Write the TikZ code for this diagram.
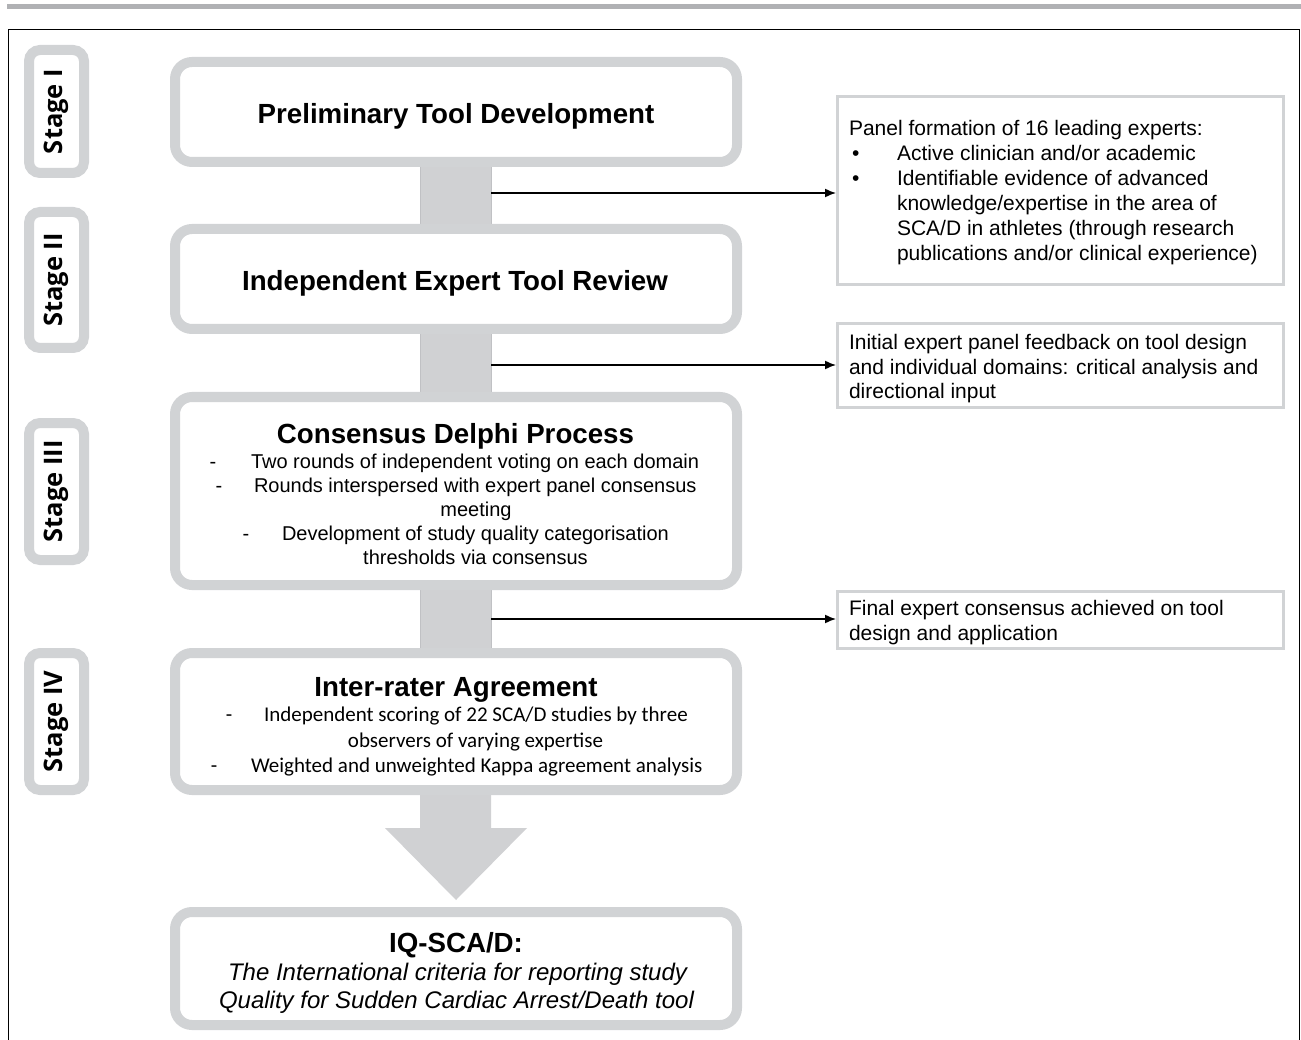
\documentclass[tikz,border=0pt]{standalone}
\usepackage{fontspec}
\setmainfont{Liberation Sans}
\newfontfamily\stagefont{Open Sans}
\newfontfamily\calfont{Carlito}
\usetikzlibrary{arrows.meta}
\definecolor{boxgray}{RGB}{209,211,213}
\definecolor{bargray}{RGB}{208,209,211}
\definecolor{topgray}{RGB}{176,177,180}
\definecolor{edgegray}{RGB}{192,193,196}
\begin{document}
\begin{tikzpicture}[x=1pt,y=-1pt,
  mainbox/.style={draw=boxgray, line width=10pt, rounded corners=17pt, fill=white, inner sep=0pt, minimum width=562pt},
  stagebox/.style={draw=boxgray, line width=10pt, rounded corners=11pt, fill=white, inner sep=0pt, minimum width=55pt},
  sidebox/.style={draw=boxgray, line width=3pt, fill=white, inner sep=0pt, minimum width=446pt},
  txt/.style={inner sep=0pt, outer sep=0pt},
  head/.style={txt, anchor=base, font=\fontsize{27.7}{32}\selectfont\bfseries},
  body/.style={txt, anchor=base west, font=\fontsize{20}{24}\selectfont},
  bodyc/.style={txt, anchor=base, font=\fontsize{20}{24}\selectfont},
  cbody/.style={txt, anchor=base west, font=\calfont\fontsize{21}{25}\selectfont},
  cbodyc/.style={txt, anchor=base, font=\calfont\fontsize{21}{25}\selectfont},
  side/.style={txt, anchor=base west, font=\fontsize{21}{25}\selectfont},
  ital/.style={txt, anchor=base, font=\fontsize{24}{28}\selectfont\itshape},
  stagetxt/.style={txt, rotate=90, font=\stagefont\bfseries\fontsize{25.5}{30}\selectfont},
  arr/.style={line width=1.5pt, -{Latex[length=11pt,width=9pt]}},
  barstyle/.style={fill=bargray, draw=edgegray, line width=0.8pt, inner sep=0pt, minimum width=71pt, minimum height=70pt}
]
\useasboundingbox (0,0) rectangle (1301,1040);
% top rule and frame
\fill[topgray] (7,4) rectangle (1301,9.5);
\draw[line width=1.6pt] (8.5,1041) -- (8.5,29.5) -- (1299.5,29.5) -- (1299.5,1041);

% connector bars
\node[barstyle] (c1) at (455.5,195) {};
\node[barstyle] (c2) at (455.5,362) {};
\node[barstyle] (c3) at (455.5,620) {};
\fill[bargray] (420,785) -- (491,785) -- (491,828) -- (527,828) -- (456,900) -- (385,828) -- (420,828) -- cycle;

% main boxes
\node[mainbox, minimum height=100pt] (b1) at (456,112) {};
\node[mainbox, minimum height=100pt] (b2) at (456,279) {};
\node[mainbox, minimum height=188pt] (b3) at (456,491) {};
\node[mainbox, minimum height=137pt] (b4) at (456,721.5) {};
\node[mainbox, minimum height=113pt] (b5) at (456,968.5) {};

% stage boxes
\node[stagebox, minimum height=123pt] (s1) at (56.5,111.5) {};
\node[stagebox, minimum height=136pt] (s2) at (56.5,280) {};
\node[stagebox, minimum height=137pt] (s3) at (56.5,491.5) {};
\node[stagebox, minimum height=137pt] (s4) at (56.5,721.5) {};
\node[stagetxt] (s1t) at (s1) {Stage I};
\node[stagetxt] (s2t) at (s2) {Stage II};
\node[stagetxt] (s3t) at (s3) {Stage III};
\node[stagetxt] (s4t) at (s4) {Stage IV};

% side boxes
\node[sidebox, minimum height=188pt] (r1) at (1060.5,190.5) {};
\node[sidebox, minimum height=84pt] (r2) at (1060.5,365.5) {};
\node[sidebox, minimum height=57pt] (r3) at (1060.5,620) {};

% arrows
\coordinate (a1) at (c1.east |- 0,193);
\coordinate (a2) at (c2.east |- 0,365);
\coordinate (a3) at (c3.east |- 0,619);
\draw[arr] (a1) -- (a1 -| r1.west);
\draw[arr] (a2) -- (a2 -| r2.west);
\draw[arr] (a3) -- (a3 -| r3.west);

% box texts
\node[head] (t1) at (456,123.5) {Preliminary Tool Development};
\node[head] (t2) at (455,291) {Independent Expert Tool Review};
\node[head] (t3) at (455.5,443) {Consensus Delphi Process};
\node[bodyc] (d31) at (213,468) {-};
\node[body] (l31) at (251,468) {Two rounds of independent voting on each domain};
\node[bodyc] (d32) at (219,492) {-};
\node[body] (l32) at (254,492) {Rounds interspersed with expert panel consensus};
\node[bodyc] (l33) at (476,516) {meeting};
\node[bodyc] (d34) at (246,540) {-};
\node[body] (l34) at (282,540) {Development of study quality categorisation};
\node[bodyc] (l35) at (475.5,564) {thresholds via consensus};

\node[head] (t4) at (456,696) {Inter-rater Agreement};
\node[cbodyc] (d41) at (229,721) {-};
\node[cbody] (l41) at (264,721) {Independent scoring of 22 SCA/D studies by three};
\node[cbodyc] (l42) at (475.5,747) {observers of varying expertise};
\node[cbodyc] (d43) at (214,772) {-};
\node[cbody] (l43) at (251,772) {Weighted and unweighted Kappa agreement analysis};

\node[head] (t5) at (456,952.5) {IQ-SCA/D:};
\node[ital] (l51) at (457.5,980) {The International criteria for reporting study};
\node[ital] (l52) at (456.5,1008) {Quality for Sudden Cardiac Arrest/Death tool};

% side texts
\node[side] (p1) at (849,136) {Panel formation of 16 leading experts:};
\node[side] (p1b1) at (852,161) {\textbullet};
\node[side] (p2) at (897,161) {Active clinician and/or academic};
\node[side] (p1b2) at (852,186) {\textbullet};
\node[side] (p3) at (897,186) {Identifiable evidence of advanced};
\node[side] (p4) at (897,211) {knowledge/expertise in the area of};
\node[side] (p5) at (897,236) {SCA/D in athletes (through research};
\node[side] (p6) at (897,261) {publications and/or clinical experience)};

\node[side] (q1) at (849,349.5) {Initial expert panel feedback on tool design};
\node[side] (q2) at (849,374) {and individual domains: critical analysis and};
\node[side] (q3) at (849,398.5) {directional input};

\node[side] (u1) at (849,615) {Final expert consensus achieved on tool};
\node[side] (u2) at (849,640) {design and application};
\end{tikzpicture}
\end{document}
